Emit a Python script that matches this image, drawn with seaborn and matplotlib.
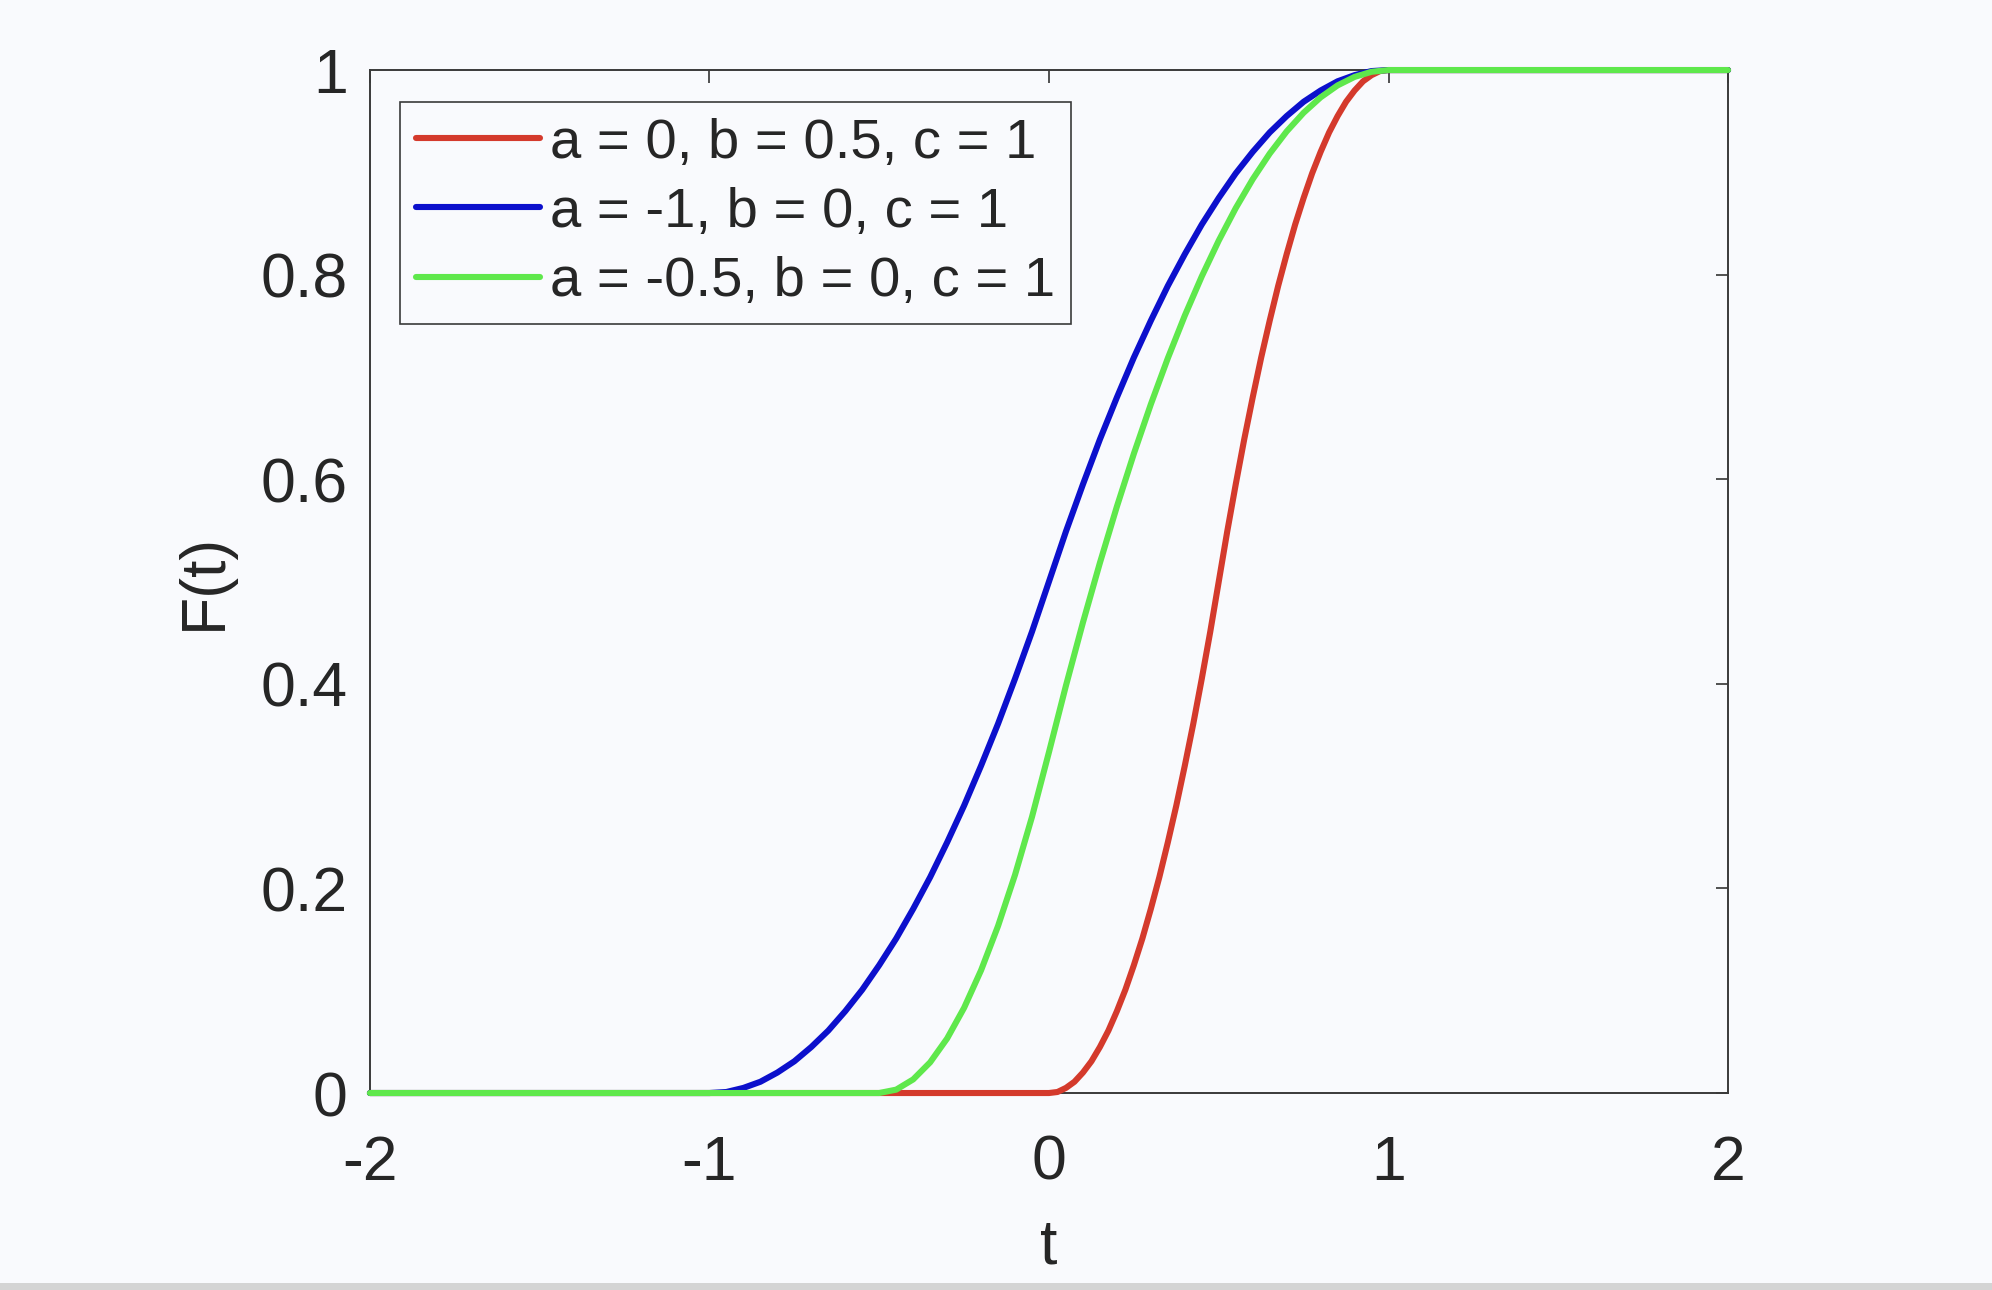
import matplotlib
matplotlib.use("Agg")
import matplotlib.pyplot as plt
import seaborn as sns
import pandas as pd
from matplotlib.patches import Rectangle

# values
t_red = [-2, 0, 0.025, 0.05, 0.075, 0.1, 0.125, 0.15, 0.175, 0.2, 0.225, 0.25,
         0.275, 0.3, 0.325, 0.35, 0.375, 0.4, 0.425, 0.45, 0.475, 0.5,
         0.525, 0.55, 0.575, 0.6, 0.625, 0.65, 0.675, 0.7, 0.725, 0.75,
         0.775, 0.8, 0.825, 0.85, 0.875, 0.9, 0.925, 0.95, 0.975, 1, 2]
f_red = [0, 0, 0.001, 0.005, 0.011, 0.02, 0.031, 0.045, 0.061, 0.08, 0.101, 0.125,
         0.151, 0.18, 0.211, 0.245, 0.281, 0.32, 0.361, 0.405, 0.451, 0.5,
         0.549, 0.595, 0.639, 0.68, 0.719, 0.755, 0.789, 0.82, 0.849, 0.875,
         0.899, 0.92, 0.939, 0.955, 0.969, 0.98, 0.989, 0.995, 0.999, 1, 1]

t_blue = [-2, -1, -0.95, -0.9, -0.85, -0.8, -0.75, -0.7, -0.65, -0.6, -0.55, -0.5,
          -0.45, -0.4, -0.35, -0.3, -0.25, -0.2, -0.15, -0.1, -0.05, 0,
          0.05, 0.1, 0.15, 0.2, 0.25, 0.3, 0.35, 0.4, 0.45, 0.5,
          0.55, 0.6, 0.65, 0.7, 0.75, 0.8, 0.85, 0.9, 0.95, 1, 2]
f_blue = [0, 0, 0.001, 0.005, 0.011, 0.02, 0.031, 0.045, 0.061, 0.08, 0.101, 0.125,
          0.151, 0.18, 0.211, 0.245, 0.281, 0.32, 0.361, 0.405, 0.451, 0.5,
          0.549, 0.595, 0.639, 0.68, 0.719, 0.755, 0.789, 0.82, 0.849, 0.875,
          0.899, 0.92, 0.939, 0.955, 0.969, 0.98, 0.989, 0.995, 0.999, 1, 1]

t_green = [-2, -0.5, -0.45, -0.4, -0.35, -0.3, -0.25, -0.2, -0.15, -0.1, -0.05, 0,
           0.05, 0.1, 0.15, 0.2, 0.25, 0.3, 0.35, 0.4, 0.45, 0.5,
           0.55, 0.6, 0.65, 0.7, 0.75, 0.8, 0.85, 0.9, 0.95, 1, 2]
f_green = [0, 0, 0.0033, 0.0133, 0.03, 0.0533, 0.0833, 0.12, 0.1633, 0.2133, 0.27, 0.3333,
           0.3983, 0.46, 0.5183, 0.5733, 0.625, 0.6733, 0.7183, 0.76, 0.7983, 0.8333,
           0.865, 0.8933, 0.9183, 0.94, 0.9583, 0.9733, 0.985, 0.9933, 0.9983, 1, 1]

labels = ["a = 0, b = 0.5, c = 1", "a = -1, b = 0, c = 1", "a = -0.5, b = 0, c = 1"]
colors = ["#d43a2c", "#0c10cc", "#5fe84c"]
x_ticks = [-2, -1, 0, 1, 2]
y_ticks = [0, 0.2, 0.4, 0.6, 0.8, 1]
y_tick_labels = ["0", "0.2", "0.4", "0.6", "0.8", "1"]

bg = "#f9fafd"
sns.set_style("white")
plt.rcParams["font.family"] = ["Liberation Sans", "DejaVu Sans"]

fig = plt.figure(figsize=(19.92, 12.9), dpi=100, facecolor=bg)
ax = fig.add_axes([0.1857, 0.1527, 0.6818, 0.793])
ax.set_facecolor(bg)

for t, f, lab, col in zip([t_red, t_blue, t_green], [f_red, f_blue, f_green], labels, colors):
    df = pd.DataFrame({"t": t, "F": f})
    sns.lineplot(data=df, x="t", y="F", sort=False, estimator=None, color=col,
                 linewidth=4.4, label=lab, ax=ax, clip_on=False, zorder=3)

ax.set_xlim(-2, 2)
ax.set_ylim(0, 1)
ax.set_xticks(x_ticks)
ax.set_xticklabels([str(v) for v in x_ticks])
ax.set_yticks(y_ticks)
ax.set_yticklabels(y_tick_labels)
ax.tick_params(direction="in", length=9, width=1.2, color="#333333",
               labelsize=45, labelcolor="#262626", top=True, right=True)
ax.tick_params(axis="x", pad=29.5)
ax.tick_params(axis="y", pad=16)
for s in ax.spines.values():
    s.set_color("#3a3a3a")
    s.set_linewidth(1.4)

ax.set_xlabel("t", fontsize=45, color="#262626", labelpad=18)
ax.set_ylabel("F(t)", fontsize=45, color="#262626", labelpad=19)

leg = ax.legend(loc="upper left", bbox_to_anchor=(0.0225, 0.969), borderaxespad=0,
                fontsize=40.5, handlelength=2.2, handletextpad=0.18, labelspacing=0.31,
                borderpad=0.28, fancybox=False, framealpha=1, facecolor=bg,
                edgecolor="#3a3a3a")
leg.get_frame().set_linewidth(1.2)
leg.set_zorder(5)
for line in leg.get_lines():
    line.set_linewidth(4.4)

fig.patches.append(Rectangle((0, 0), 1, 7 / 1290, transform=fig.transFigure,
                             facecolor="#d4d4d4", edgecolor="none"))

fig.savefig("out.png", dpi=100, facecolor=bg)
